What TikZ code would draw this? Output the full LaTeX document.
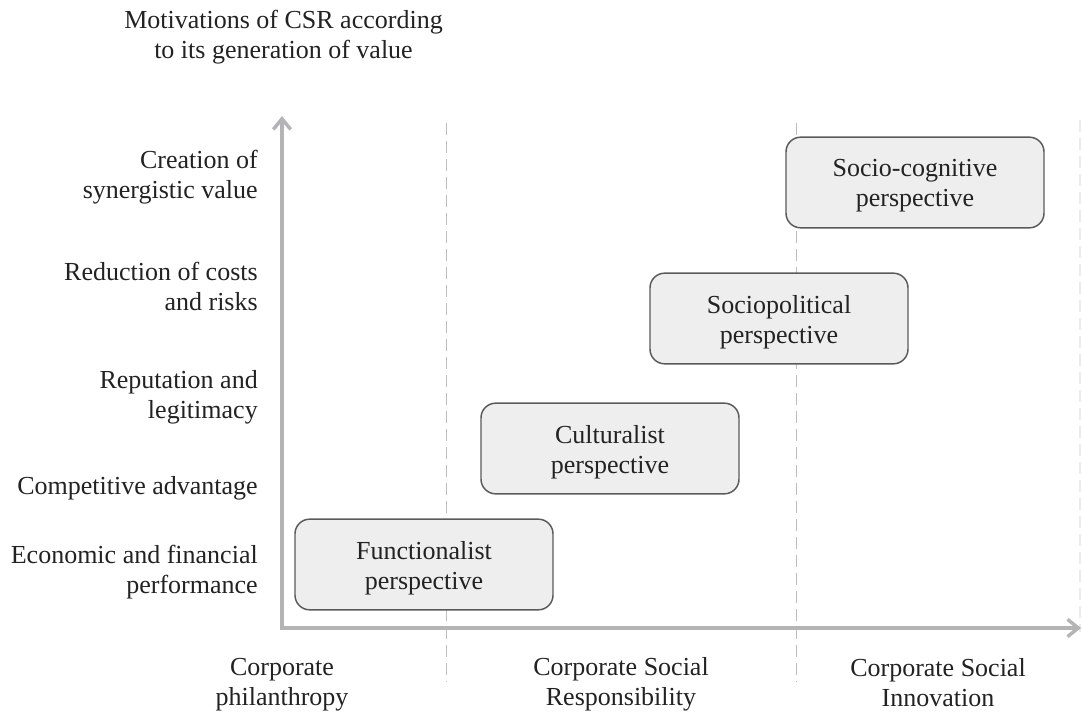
\documentclass[tikz,border=0pt]{standalone}
\usepackage{fontspec}
\setmainfont{Liberation Serif}
\usetikzlibrary{arrows.meta}
\definecolor{axisgray}{HTML}{B4B4B6}
\definecolor{boxfill}{HTML}{EEEEEE}
\definecolor{boxline}{HTML}{5A5A5A}
\definecolor{dashgray}{HTML}{BDBDBD}
\definecolor{textgray}{HTML}{222222}
\tikzset{
  lbl/.style={font=\fontsize{19.5}{22.5}\selectfont, text=textgray, align=center, inner sep=0pt},
  ylbl/.style={lbl, align=right, anchor=east},
  perspective/.style={draw=boxline, line width=1.1pt, fill=boxfill,
    rounded corners=11pt, minimum width=193.5pt, minimum height=68pt, inner sep=0pt},
  boxtext/.style={lbl, yshift=-2.5pt},
  axis/.style={draw=axisgray, line width=3pt,
    -{Straight Barb[length=8pt, width=13pt, line width=2.6pt]}},
  divider/.style={draw=dashgray, line width=1.1pt, dash pattern=on 9pt off 4.5pt},
  faint/.style={draw=black!8, line width=1.1pt, dash pattern=on 9pt off 4.5pt}
}
\begin{document}
\begin{tikzpicture}[x=0.75pt, y=-0.75pt]
\useasboundingbox (0,0) rectangle (1082,712);

% column dividers
\coordinate (d1top) at (446.5,123);
\coordinate (d1bot) at (446.5,682);
\coordinate (d2top) at (796.5,123);
\coordinate (d2bot) at (796.5,682);
\coordinate (d3top) at (1080,120);
\coordinate (d3bot) at (1080,632);
\draw[divider] (d1top) -- (d1bot);
\draw[divider] (d2top) -- (d2bot);
\draw[faint] (d3top) -- (d3bot);

% axes
\coordinate (origin) at (282,628);
\coordinate (ytip) at (282,116);
\coordinate (xtip) at (1081,628);
\draw[axis] (origin) -- (ytip);
\draw[axis] ([xshift=-1.5pt]origin) -- (xtip);

% axis title
\node[lbl] (title) at (283.5,37) {Motivations of CSR according\\to its generation of value};

% value levels
\node[ylbl] (v5) at (258,177) {Creation of\\synergistic value};
\node[ylbl] (v4) at (258,286) {Reduction of costs\\and risks};
\node[ylbl] (v3) at (258,397) {Reputation and\\legitimacy};
\node[ylbl] (v2) at (258,488) {Competitive advantage};
\node[ylbl] (v1) at (258,572) {Economic and financial\\performance};

% stages
\node[lbl] (s1) at (282,685) {Corporate\\philanthropy};
\node[lbl] (s2) at (621,684.5) {Corporate Social\\Responsibility};
\node[lbl] (s3) at (938,683) {Corporate Social\\Innovation};

% perspectives
\node[perspective] (p1) at (424,564.5) {};
\node[perspective] (p2) at (610,448.5) {};
\node[perspective] (p3) at (779,318.5) {};
\node[perspective] (p4) at (915,182.5) {};
\node[boxtext] (p1t) at (p1.center) {Functionalist\\perspective};
\node[boxtext] (p2t) at (p2.center) {Culturalist\\perspective};
\node[boxtext] (p3t) at (p3.center) {Sociopolitical\\perspective};
\node[boxtext] (p4t) at (p4.center) {Socio-cognitive\\perspective};
\end{tikzpicture}
\end{document}
